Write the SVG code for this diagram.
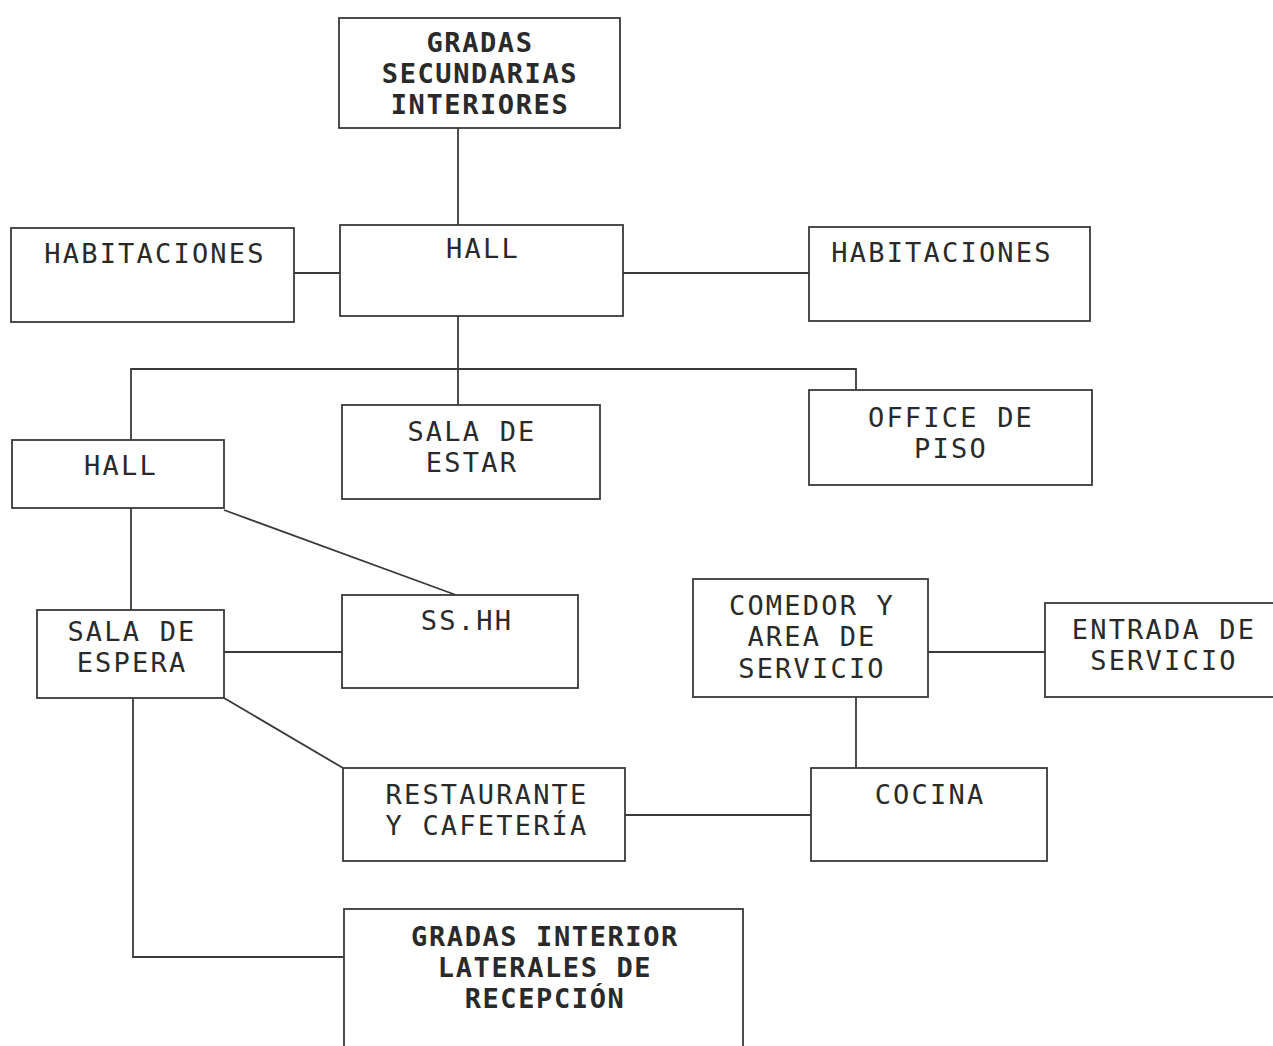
<svg xmlns="http://www.w3.org/2000/svg" width="1273" height="1046" viewBox="0 0 1273 1046">
<style>
.box{fill:#fff;stroke:#3a3a3a;stroke-width:1.8}
.lbl{font-family:"DejaVu Sans Mono","Liberation Mono",monospace;font-size:27px;letter-spacing:2.2px;fill:#2a2a2a;text-anchor:middle}
.b{font-weight:bold;letter-spacing:1.6px}
#connectors line,#connectors polyline{stroke:#3a3a3a;stroke-width:1.8;fill:none}
</style>
<rect width="1273" height="1046" fill="#fff"/>
<g id="connectors">
<line x1="458" y1="128" x2="458" y2="225"/>
<line x1="294" y1="273" x2="340" y2="273"/>
<line x1="623" y1="273" x2="809" y2="273"/>
<line x1="458" y1="316" x2="458" y2="405"/>
<polyline points="131,440 131,369 856,369 856,390"/>
<line x1="131" y1="508" x2="131" y2="610"/>
<line x1="224" y1="510" x2="456" y2="595"/>
<line x1="224" y1="652" x2="342" y2="652"/>
<line x1="224" y1="698" x2="343" y2="768"/>
<polyline points="133,698 133,957 344,957"/>
<line x1="625" y1="815" x2="811" y2="815"/>
<line x1="856" y1="697" x2="856" y2="768"/>
<line x1="928" y1="652" x2="1045" y2="652"/>
</g>
<g id="gradas-secundarias">
<rect class="box" x="339" y="18" width="281" height="110"/>
<text class="lbl b" x="480" y="52">GRADAS</text>
<text class="lbl b" x="480" y="83">SECUNDARIAS</text>
<text class="lbl b" x="480" y="114">INTERIORES</text>
</g>
<g id="habitaciones-izq">
<rect class="box" x="11" y="228" width="283" height="94"/>
<text class="lbl" x="155" y="263">HABITACIONES</text>
</g>
<g id="hall-sup">
<rect class="box" x="340" y="225" width="283" height="91"/>
<text class="lbl" x="483" y="258">HALL</text>
</g>
<g id="habitaciones-der">
<rect class="box" x="809" y="227" width="281" height="94"/>
<text class="lbl" x="942" y="262">HABITACIONES</text>
</g>
<g id="sala-estar">
<rect class="box" x="342" y="405" width="258" height="94"/>
<text class="lbl" x="472" y="441">SALA DE</text>
<text class="lbl" x="472" y="472">ESTAR</text>
</g>
<g id="office-piso">
<rect class="box" x="809" y="390" width="283" height="95"/>
<text class="lbl" x="951" y="427">OFFICE DE</text>
<text class="lbl" x="951" y="458">PISO</text>
</g>
<g id="hall-izq">
<rect class="box" x="12" y="440" width="212" height="68"/>
<text class="lbl" x="121" y="475">HALL</text>
</g>
<g id="sshh">
<rect class="box" x="342" y="595" width="236" height="93"/>
<text class="lbl" x="467" y="630">SS.HH</text>
</g>
<g id="sala-espera">
<rect class="box" x="37" y="610" width="187" height="88"/>
<text class="lbl" x="132" y="641">SALA DE</text>
<text class="lbl" x="132" y="672">ESPERA</text>
</g>
<g id="comedor">
<rect class="box" x="693" y="579" width="235" height="118"/>
<text class="lbl" x="812" y="615">COMEDOR Y</text>
<text class="lbl" x="812" y="646">AREA DE</text>
<text class="lbl" x="812" y="678">SERVICIO</text>
</g>
<g id="entrada-servicio">
<rect class="box" x="1045" y="603" width="236" height="94"/>
<text class="lbl" x="1164" y="639">ENTRADA DE</text>
<text class="lbl" x="1164" y="670">SERVICIO</text>
</g>
<g id="restaurante">
<rect class="box" x="343" y="768" width="282" height="93"/>
<text class="lbl" x="487" y="804">RESTAURANTE</text>
<text class="lbl" x="487" y="835">Y CAFETERÍA</text>
</g>
<g id="cocina">
<rect class="box" x="811" y="768" width="236" height="93"/>
<text class="lbl" x="930" y="804">COCINA</text>
</g>
<g id="gradas-interior">
<rect class="box" x="344" y="909" width="399" height="150"/>
<text class="lbl b" x="545" y="946">GRADAS INTERIOR</text>
<text class="lbl b" x="545" y="977">LATERALES DE</text>
<text class="lbl b" x="545" y="1008">RECEPCIÓN</text>
</g>
</svg>
